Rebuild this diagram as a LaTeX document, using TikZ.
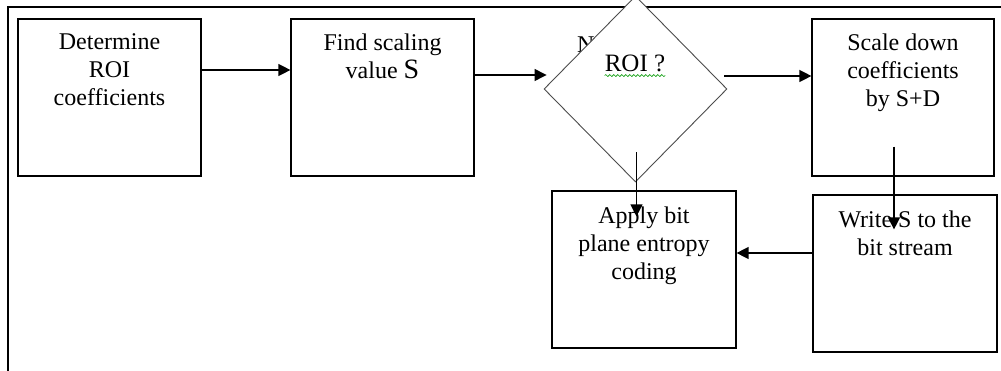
\documentclass[tikz,border=0pt]{standalone}
\usepackage{fontspec}
\setmainfont{Liberation Serif}
\usetikzlibrary{shapes.geometric,arrows.meta,calc,decorations.pathmorphing}
\begin{document}
\begin{tikzpicture}[x=1pt,y=-1pt]
    \tikzset{blk/.style = {draw, line width=1.2pt, minimum width=183pt, minimum height=157pt, inner sep=0pt}}
    \tikzset{txt/.style = {anchor=north, align=center, inner sep=0pt, yshift=-15pt, font=\fontsize{24}{28}\selectfont}}
    \tikzset{arr/.style = {-{Triangle[length=12pt,width=12pt]}, line width=1.3pt}}
    \path[use as bounding box, clip] (0,0) rectangle (1001,371);
    % outer frame
    \draw[line width=1.2pt] (8,380) -- (8,7) -- (1010,7);
    \node[anchor=base west, inner sep=0pt, font=\fontsize{24}{28}\selectfont] (no) at (577,53) {No};
    \node[blk, label={[txt]north:Determine\\ROI\\coefficients}] (roi) at (109.5,97.5) {};
    \node[blk, label={[txt]north:Find scaling\\value {\fontsize{28}{28}\selectfont S}}] (find) at (382.5,97.5) {};
    \node[shape=diamond, draw=black!70, line width=0.9pt, fill=white, minimum width=183pt, minimum height=186pt, inner sep=0pt] (dec) at (635.5,89) {};
    \node[anchor=base, inner sep=0pt, font=\fontsize{25}{28}\selectfont] (q) at (635,72) {ROI ?};
    \node[blk, minimum width=182pt, label={[txt]north:Scale down\\coefficients\\by S+D}] (scl) at (903,97.5) {};
    \node[blk, minimum width=184pt, label={[txt,yshift=-1pt]north:Apply bit\\plane entropy\\coding}] (apply) at (644,269.5) {};
    \node[blk, minimum width=184pt, label={[txt,yshift=-1pt]north:Write S to the\\bit stream}] (write) at (905,273.5) {};
    \draw[green!60!black, line width=0.6pt, decorate, decoration={snake, amplitude=1pt, segment length=4pt}] ($(q.south west)+(0,3)$) -- ($(q.south east)+(0,3)$);
    \draw[arr] ([yshift=27.5pt]roi.east) -- ([yshift=27.5pt]find.west);
    \draw[arr] ([yshift=22.5pt]find.east) -- ($(dec.west)+(3,-14)$);
    \draw[arr] ($(dec.east)+(-3,-13)$) -- ([yshift=21.5pt]scl.west);
    \draw[arr] ($(dec.south)+(1,-30)$) -- ($(dec.south |- apply.north)+(1,26)$);
    \draw[arr] ($(scl.south)+(-9,-30)$) -- ($(scl.south |- write.north)+(-9,35)$);
    \draw[arr] ([yshift=20.5pt]write.west) -- ([yshift=16.5pt]apply.east);
\end{tikzpicture}
\end{document}
